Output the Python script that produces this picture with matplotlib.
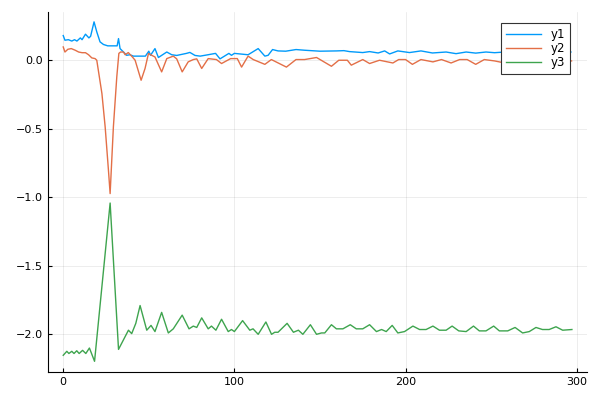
import matplotlib
matplotlib.use("Agg")
import matplotlib.pyplot as plt

# datos (x, y por serie)
x_y1 = [0, 1, 3, 5, 6.6, 8, 10, 11, 13, 15, 16, 18, 19.6, 21.5, 23.5, 26, 31.5, 32.3, 33.2, 34.4,
        36, 37, 39, 41, 45, 48, 50, 51, 53.6, 55.6, 60.5, 63.4, 66.3, 72, 74, 77, 80, 84.6, 89, 91.6,
        96.8, 98.3, 100, 108, 113.9, 117.8, 119.7, 122.3, 125.5, 130, 136, 141, 150, 159.6, 164, 167.3, 175, 179, 184, 187.8,
        190.7, 195.5, 202.3, 209, 215.7, 223.7, 229.5, 235.4, 241, 247, 252, 258, 265, 272, 280, 288, 296.6]
y1 = [0.18, 0.146, 0.15, 0.14, 0.15, 0.14, 0.163, 0.15, 0.19, 0.163, 0.175, 0.28, 0.207, 0.134, 0.115, 0.105, 0.105, 0.158, 0.085, 0.07,
      0.05, 0.036, 0.04, 0.03, 0.03, 0.03, 0.066, 0.036, 0.085, 0.02, 0.06, 0.04, 0.035, 0.05, 0.057, 0.035, 0.03, 0.04, 0.05, 0.01,
      0.05, 0.036, 0.05, 0.04, 0.085, 0.03, 0.036, 0.078, 0.068, 0.066, 0.078, 0.073, 0.066, 0.068, 0.07, 0.063, 0.056, 0.063, 0.053, 0.068,
      0.046, 0.068, 0.056, 0.068, 0.053, 0.06, 0.048, 0.06, 0.052, 0.06, 0.055, 0.06, 0.055, 0.06, 0.055, 0.06, 0.06]

x_y2 = [0, 1, 2.7, 4.7, 7, 9, 11, 13, 14.8, 16.7, 18.6, 19.6, 22.6, 24.5, 26.4, 27.4, 29.3, 31.3, 32.5, 33.5,
        35.2, 36.2, 38, 40.4, 42, 45.5, 47.8, 49.8, 51.7, 53.6, 57.5, 60.5, 64.3, 66.3, 69.5, 73, 76, 78, 80.9, 84.7,
        89.5, 92.5, 97.8, 101.7, 104.2, 108, 111, 117.8, 121.6, 130.4, 136, 141, 148, 156.7, 161, 166, 168.3, 175, 179, 184.8,
        192.6, 196, 200, 204, 209, 216, 221, 226.6, 231.6, 236, 241, 246, 252, 258, 264, 270, 276, 282, 288, 297]
y2 = [0.097, 0.06, 0.08, 0.085, 0.073, 0.06, 0.055, 0.055, 0.04, 0.017, 0.012, 0.0, -0.243, -0.487, -0.80, -0.973, -0.487, -0.12, 0.05, 0.06,
      0.06, 0.04, 0.056, 0.024, 0.0, -0.146, -0.06, 0.049, 0.036, 0.024, -0.085, 0.012, 0.03, 0.01, -0.085, -0.012, 0.005, 0.01, -0.06, 0.012,
      0.005, -0.024, 0.012, 0.012, -0.05, 0.03, 0.005, -0.03, 0.005, -0.05, 0.005, 0.005, 0.02, -0.044, 0.0, 0.0, -0.036, 0.005, -0.024, 0.0,
      -0.02, 0.005, 0.005, -0.03, 0.005, -0.012, 0.005, -0.02, 0.005, 0.005, -0.03, 0.005, -0.005, -0.02, 0.0, -0.02, 0.0, -0.02, 0.0, -0.005]

x_y3 = [0, 2.1, 3.3, 5, 6.3, 7.9, 9.3, 11.3, 13.2, 15.3, 18.3, 27.4, 32.3, 35.2, 38.1, 40, 42.4, 44.9, 48.8, 51.3,
        53.6, 57.5, 61.4, 64.3, 69.5, 73.5, 76, 78, 80.9, 84.7, 86.6, 89.2, 92.5, 96.4, 98.3, 100, 104.8, 109, 110.9, 113.9,
        118.4, 121.7, 123.6, 125.5, 130.8, 134.5, 137.4, 140, 144.4, 148, 150.9, 152.8, 156.7, 159.6, 163.4, 167.7, 171.2, 175, 179, 183,
        186, 188.7, 192.2, 195.5, 199.4, 204.3, 208.2, 212, 216, 219.8, 223.7, 227.2, 231.1, 235.4, 239.7, 243.1, 247, 251.5, 254.8, 259.7,
        264, 268.4, 272.3, 276.2, 280, 283.9, 287.9, 291.8, 297.2]
y3 = [-2.153, -2.124, -2.14, -2.124, -2.14, -2.12, -2.14, -2.117, -2.14, -2.10, -2.197, -1.042, -2.11, -2.04, -1.97, -1.995, -1.92, -1.79, -1.97, -1.935,
      -1.98, -1.84, -1.99, -1.96, -1.86, -1.96, -1.94, -1.95, -1.88, -1.96, -1.94, -1.97, -1.89, -1.98, -1.965, -1.98, -1.90, -1.97, -1.96, -2.0,
      -1.91, -2.0, -1.985, -1.985, -1.92, -1.985, -1.97, -2.0, -1.93, -2.0, -1.99, -1.99, -1.93, -1.96, -1.96, -1.93, -1.96, -1.96, -1.93, -1.98,
      -1.965, -1.98, -1.935, -1.99, -1.98, -1.94, -1.965, -1.965, -1.94, -1.97, -1.97, -1.94, -1.975, -1.98, -1.94, -1.975, -1.975, -1.94, -1.975, -1.975,
      -1.95, -1.99, -1.98, -1.95, -1.965, -1.965, -1.945, -1.97, -1.965]

labels = ["y1", "y2", "y3"]
colors = ["#009AFA", "#E36F47", "#3EA44E"]
x_ticks = [0, 100, 200, 300]
y_ticks = [0.0, -0.5, -1.0, -1.5, -2.0]


def main():
    fig = plt.figure(figsize=(6, 4), dpi=100)
    ax = fig.add_axes([0.08, 0.07, 0.898, 0.90])

    ax.plot(x_y1, y1, color=colors[0], lw=1.0, label=labels[0])
    ax.plot(x_y2, y2, color=colors[1], lw=1.0, label=labels[1])
    ax.plot(x_y3, y3, color=colors[2], lw=1.0, label=labels[2])

    ax.set_xlim(-8.9, 305.9)
    ax.set_ylim(-2.275, 0.352)
    ax.set_xticks(x_ticks)
    ax.set_yticks(y_ticks)
    ax.set_yticklabels([f"{v:.1f}".replace("-", "\u2212") for v in y_ticks])

    ax.grid(True, color="black", alpha=0.1, lw=0.5)
    for side in ["top", "right"]:
        ax.spines[side].set_visible(False)
    ax.tick_params(direction="in", length=3, labelsize=8, colors="black")

    leg = ax.legend(loc="upper right", bbox_to_anchor=(0.9685, 0.969), borderaxespad=0,
                    fancybox=False, framealpha=1, edgecolor="#333333", fontsize=8.5,
                    handlelength=3.0, labelspacing=0.1)
    leg.get_frame().set_linewidth(0.8)

    fig.savefig("out.png")


if __name__ == "__main__":
    main()
